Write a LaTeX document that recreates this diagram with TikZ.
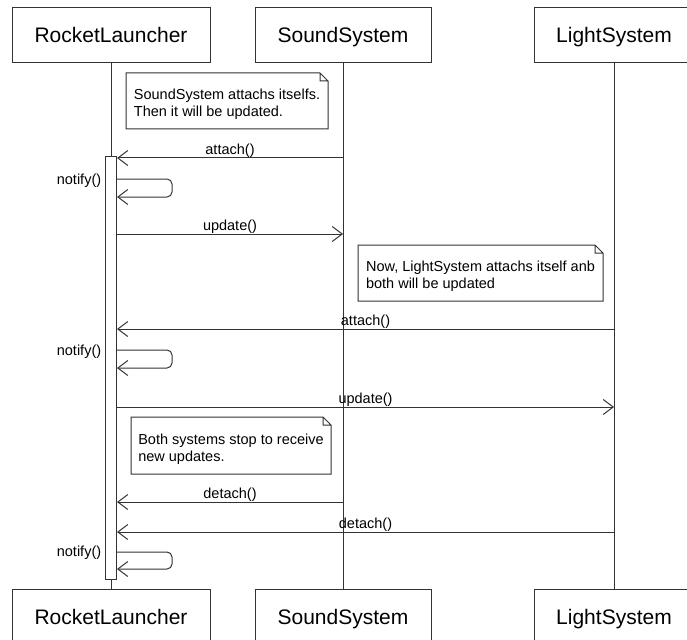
\documentclass[tikz,border=0pt]{standalone}
\usepackage{fontspec}
\setmainfont{Liberation Sans}
\usetikzlibrary{arrows.meta,calc}
\definecolor{LineGray}{HTML}{333333}

\begin{document}
\begin{tikzpicture}[x=1pt, y=-1pt, line width=1pt,
  every node/.style={font=\fontsize{14.5}{17}\selectfont, text=black},
  lifebox/.style={draw=LineGray, fill=white, minimum height=55pt, text height=15pt, text depth=0pt, font=\fontsize{21}{25}\selectfont},
  lifeline/.style={draw=LineGray},
  msg/.style={draw=LineGray, -{Straight Barb[length=10pt,width=15pt]}},
  msglabel/.style={above, inner sep=0pt},
  note/.style={anchor=north west, inner sep=3pt, align=left, fill=white},
  activation/.style={draw=LineGray, fill=white, minimum width=11pt, inner sep=0pt}]
\useasboundingbox (0,0) rectangle (687,639);
\clip (0,0) rectangle (687,639);
% heads of the lifelines
\node[lifebox, minimum width=198pt] (rlTop) at (111,35.5) {RocketLauncher};
\node[lifebox, minimum width=176pt] (ssTop) at (343,35.5) {SoundSystem};
\node[lifebox, minimum width=160pt] (lsTop) at (614,35.5) {LightSystem};
\node[lifebox, minimum width=198pt] (rlBot) at (111,616.5) {RocketLauncher};
\node[lifebox, minimum width=176pt] (ssBot) at (343,616.5) {SoundSystem};
\node[lifebox, minimum width=160pt] (lsBot) at (614,616.5) {LightSystem};
\draw[lifeline] (rlTop) -- (rlBot);
\draw[lifeline] (ssTop) -- (ssBot);
\draw[lifeline] (lsTop) -- (lsBot);
\node[activation, minimum height=422pt] (act) at (111,368) {};
% notes (the outline reaches 7pt above the text node)
\node[note, minimum width=201pt, minimum height=48pt] (noteA) at (126,80) {SoundSystem attachs itselfs.\\Then it will be updated.};
\node[note, minimum width=244pt, minimum height=48pt] (noteB) at (358,252) {Now, LightSystem attachs itself anb\\both will be updated};
\node[note, minimum width=199pt, minimum height=49pt] (noteC) at (131,424) {Both systems stop to receive\\new updates.};
\foreach \n in {noteA,noteB,noteC}
  \draw[lifeline] ([yshift=7pt]\n.north west) -- ([shift={(-8pt,7pt)}]\n.north east) -- ([yshift=-1pt]\n.north east) -- (\n.south east) -- (\n.south west) -- cycle
    ([shift={(-8pt,7pt)}]\n.north east) |- ([yshift=-1pt]\n.north east);
% messages
\draw[msg] (ssTop |- 0,158) -- node[msglabel] (attachA) {attach()} (act.east |- 0,158);
\draw[msg, rounded corners=5pt] (act.east |- 0,179) -- ++(55,0) -- ++(0,18) -- ++(-55,0);
\node[anchor=east] (notifyA) at (act.west |- 0,181) {notify()};
\draw[msg] (act.east |- 0,234) -- node[msglabel] (updateA) {update()} (ssTop |- 0,234);
\draw[msg] (lsTop |- 0,329) -- node[msglabel] (attachB) {attach()} (act.east |- 0,329);
\draw[msg, rounded corners=5pt] (act.east |- 0,350) -- ++(55,0) -- ++(0,18) -- ++(-55,0);
\node[anchor=east] (notifyB) at (act.west |- 0,352) {notify()};
\draw[msg] (act.east |- 0,407) -- node[msglabel] (updateB) {update()} (lsTop |- 0,407);
\draw[msg] (ssTop |- 0,502) -- node[msglabel] (detachA) {detach()} (act.east |- 0,502);
\draw[msg] (lsTop |- 0,532) -- node[msglabel] (detachB) {detach()} (act.east |- 0,532);
\draw[msg, rounded corners=5pt] (act.east |- 0,552) -- ++(55,0) -- ++(0,17) -- ++(-55,0);
\node[anchor=east] (notifyC) at (act.west |- 0,553) {notify()};
\end{tikzpicture}
\end{document}
